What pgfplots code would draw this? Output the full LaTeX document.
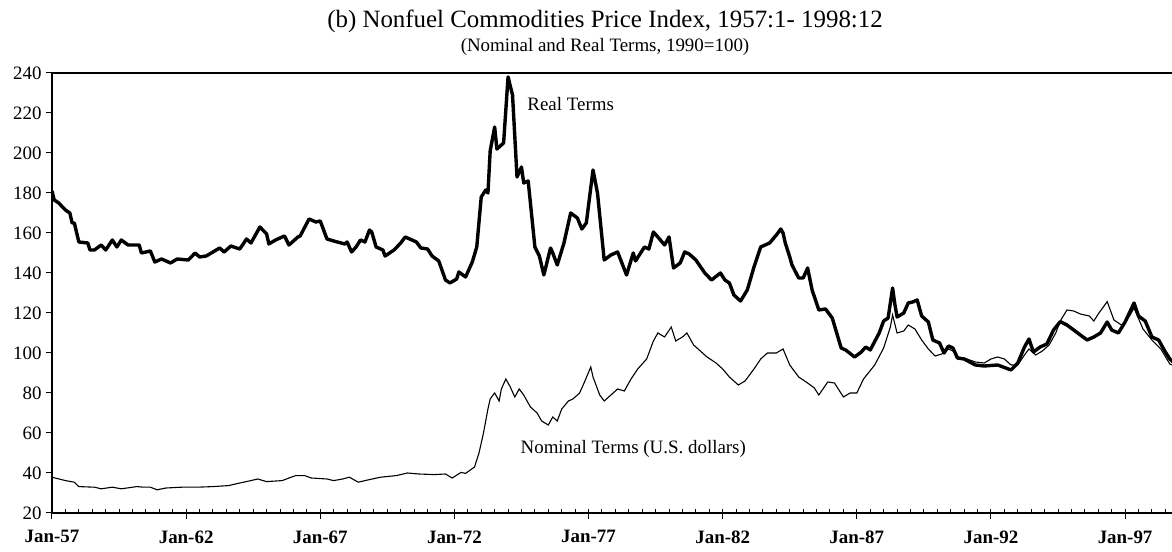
\documentclass[border=0pt]{standalone}
\usepackage{fontspec}
\setmainfont{Liberation Serif}
\usepackage{pgfplots}
\usepackage{pgfplotstable}
\pgfplotsset{compat=1.18}
\pgfplotstableread{
m v
0 181
1 176.5
3 175
6 171.5
8 170
9 165
10 165
12 155.5
16 155
17 151.5
19 151.5
22 154
24 151.5
27 156.5
29 153
31 156.5
34 154
39 154
40 150
44 151
46 145.5
49 147
53 145
56 147
61 146.5
64 150
66 148
69 148.5
75 152.5
77 150.5
80 153.5
84 152
87 157
89 155
93 163
96 159.5
97 154.5
100 156.5
104 158.5
106 154
110 158
111 158.5
115 167
118 165.5
120 166
123 157
126 156
131 154.5
132 155.5
134 150.5
136 153
138 156.5
140 155.5
142 161.5
143 160.5
145 153
148 151.5
149 148.5
153 151.5
156 155
158 158
160 157
163 155.5
165 152.5
168 152
170 148.5
173 146
176 136.5
178 135
181 137
182 140.5
185 138
188 145.5
190 153
192 178
194 181.5
195 180
196 201
198 213
199 202
202 205
204 238
206 229
208 188
210 193
211 185
213 186
216 153
218 148.5
220 139
223 152.5
224 150
226 144
229 155
232 170
235 167.5
237 162
239 165
242 191.5
244 180
247 146.5
250 149
253 150.5
257 139
260 150
261 146
265 153
267 152
269 160.5
271 158
274 154
276 158
278 142.5
281 145
283 150.5
285 149.5
288 146.5
292 140
295 136.5
299 140
301 136.5
303 135
305 129
308 126
311 131.5
314 143
317 153
321 155
324 159
326 162
327 160
328 155
330 148
331 144
334 137.5
336 137.5
338 142.5
340 131.5
343 121.5
346 122
349 117.5
353 102.5
355 101.5
359 98
362 100.5
364 103
366 101.5
370 110
372 116
374 117.5
376 132.5
377 124.5
378 118
381 120
383 125
385 125.5
387 126.5
389 118.5
392 115.5
394 106.5
397 105
399 100
401 103.5
403 102.5
405 97.5
408 97
413 94
417 93.5
423 94
429 91.5
432 95
435 103
437 107
439 100.5
442 103
445 104.5
448 111.5
451 115.7
454 114
457 111.5
460 109
463 106.5
466 108
469 110
472 115.5
474 111.5
477 110
480 115.5
484 125
486 118.5
489 116
492 108
495 106.5
498 100.5
500 97
503 94
}\realtab
\pgfplotstableread{
m v
0 37.9
6 36.2
10 35.4
12 33.2
19 32.9
22 32.1
27 32.9
31 32.1
38 33.2
41 32.9
44 32.9
47 31.6
51 32.5
58 32.9
65 32.9
72 33.2
79 33.7
82 34.5
89 36.2
92 37
96 35.7
103 36.2
106 37.5
109 38.7
113 38.7
116 37.5
123 37
126 36.2
130 37
133 37.9
137 35.4
140 36.2
147 37.9
154 38.7
159 40
164 39.5
171 39.2
176 39.5
179 37.5
183 40.3
185 39.8
189 43
191 50
193 60
195 72
196 77
198 80
200 76
201 82
203 87
205 83
207 78
209 82
211 79
214 73
217 70
219 66
222 64
224 68
226 66
228 72
231 76
233 77
236 80
238 85
241 93
242 88
245 79
247 76
250 79
253 82
256 81
259 87
262 92
266 97
269 106
271 110
274 108
277 113
279 106
282 108
284 110
287 104
290 101
293 98
297 95
300 92
303 88
307 84
310 86
314 92
317 97
320 100
324 100
327 102
330 94
334 88
338 85
341 82.5
343 79
347 85.5
350 85
354 78
357 80
360 80
363 87
368 94
372 102.5
375 113
376 119
378 110
381 111
383 114
386 112
389 106.5
392 102
395 98.5
398 99.5
401 102
403 101
405 98
408 97.5
413 95.5
417 95
420 97
423 98
426 97
429 94
432 94
435 99
437 102
440 99
443 101
446 104
449 110
451 116
454 121.5
457 121
460 119.5
464 118.5
466 116
468 119.5
472 125.7
475 116.5
479 113.5
482 118.5
484 122.5
488 112
492 106.5
496 102
500 94.5
503 93
}\nomtab
\begin{document}
\begin{tikzpicture}[x=1bp,y=1bp]
\path[use as bounding box] (-52,-39) rectangle (1120,513);
\begin{axis}[
  at={(0,0)}, anchor=south west, scale only axis,
  width=1120bp, height=440bp,
  xmin=0, xmax=501, ymin=20, ymax=240,
  axis x line=bottom, axis y line=left,
  axis line style={-, line width=1.2bp, black},
  tick style={line width=1bp, black},
  tick align=outside,
  major tick length=6bp,
  ytick={20,40,...,240},
  yticklabels={20,40,60,80,100,120,140,160,180,200,220,240},
  y tick label style={font=\fontsize{19}{22}\selectfont, xshift=-1bp},
  xtick={0,60,...,480},
  xticklabels={Jan-57,Jan-62,Jan-67,Jan-72,Jan-77,Jan-82,Jan-87,Jan-92,Jan-97},
  x tick label style={font=\bfseries\fontsize{19}{22}\selectfont, yshift=-8bp},
  extra x ticks={6,12,...,498},
  extra x tick labels={},
  extra x tick style={tick align=inside, major tick length=4bp},
  clip=true,
]
\addplot[black, line width=1.1bp] table[x=m,y=v] {\nomtab};
\addplot[black, line width=3.4bp, line join=round] table[x=m,y=v] {\realtab};
\node[font=\fontsize{19}{22}\selectfont] at (axis cs:232,224.5) {Real Terms};
\node[font=\fontsize{19}{22}\selectfont] at (axis cs:260,52) {Nominal Terms (U.S. dollars)};
\end{axis}
\draw[line width=1.2bp] (0,440) -- (1120,440);
\node[font=\fontsize{25}{30}\selectfont] at (553,492) {(b) Nonfuel Commodities Price Index, 1957:1- 1998:12};
\node[font=\fontsize{19}{22}\selectfont] at (553,466) {(Nominal and Real Terms, 1990=100)};
\end{tikzpicture}
\end{document}
